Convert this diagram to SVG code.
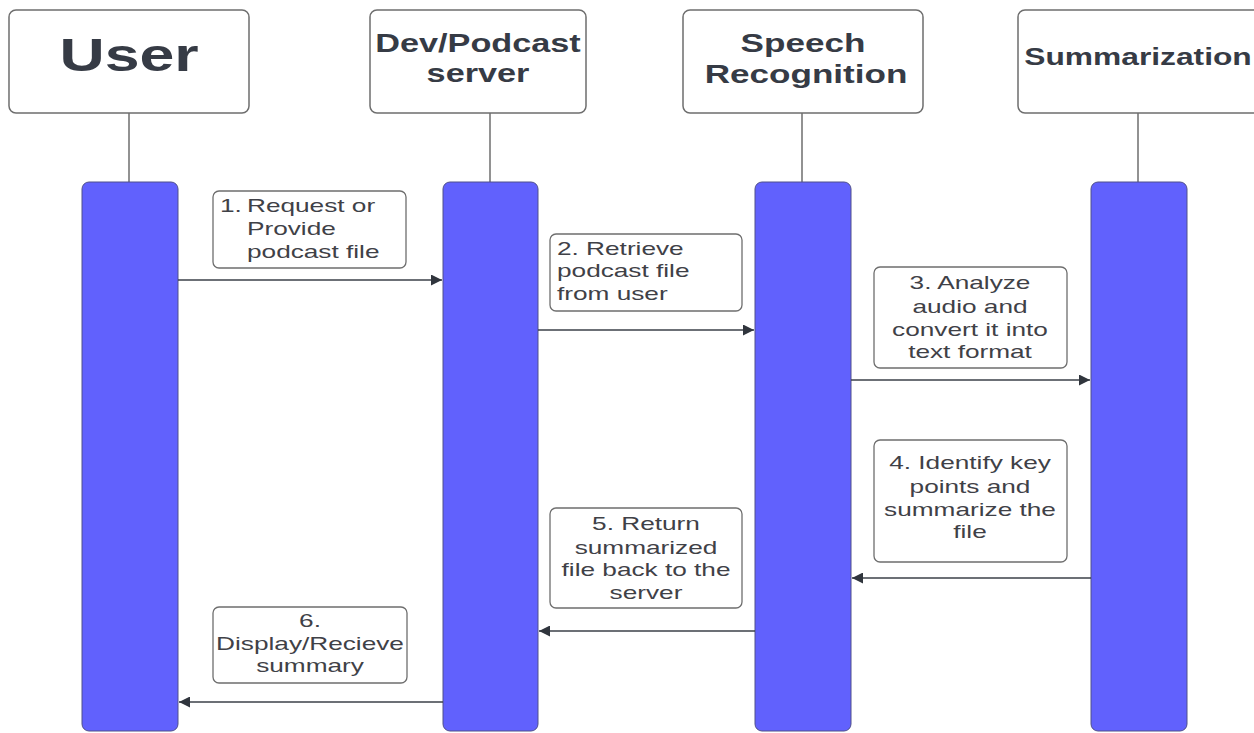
<svg xmlns="http://www.w3.org/2000/svg" width="1254" height="733" viewBox="0 0 1254 733">
<defs>
<style>
.hbox{fill:#fff;stroke:#6e6e6e;stroke-width:1.5}
.life{stroke:#6e6e6e;stroke-width:1.5}
.bar{fill:#6161fd;stroke:#50508a;stroke-width:1}
.lbl{fill:#fff;stroke:#6e6e6e;stroke-width:1.3}
.ht{font-family:"Liberation Sans",Arial,sans-serif;font-weight:bold;fill:#363b45}
.mt{font-family:"Liberation Sans",Arial,sans-serif;font-size:19px;fill:#3f4147}
.msg{stroke:#3b4049;stroke-width:1.5;fill:none}
</style>
<marker id="ah" viewBox="0 0 10 10" refX="10" refY="5" markerWidth="15" markerHeight="11" markerUnits="userSpaceOnUse" orient="auto">
<path d="M0,0 L10,5 L0,10 z" fill="#30353d"/>
</marker>
</defs>
<rect width="1254" height="733" fill="#fff"/>

<g id="user">
<rect class="hbox" x="9" y="10" width="240" height="103" rx="7"/>
<text class="ht" font-size="46" text-anchor="middle" transform="translate(129,71) scale(1.36,1)">User</text>
<line class="life" x1="129" y1="113" x2="129" y2="182"/>
<rect class="bar" x="82" y="182" width="96" height="549" rx="7"/>
</g>

<g id="server">
<rect class="hbox" x="370" y="10" width="216" height="103" rx="7"/>
<text class="ht" font-size="25" text-anchor="middle" transform="translate(478,52) scale(1.37,1)">Dev/Podcast</text>
<text class="ht" font-size="25" text-anchor="middle" transform="translate(478,82) scale(1.37,1)">server</text>
<line class="life" x1="490" y1="113" x2="490" y2="182"/>
<rect class="bar" x="443" y="182" width="95" height="549" rx="7"/>
</g>

<g id="speech">
<rect class="hbox" x="683" y="10" width="240" height="103" rx="7"/>
<text class="ht" font-size="26" text-anchor="middle" transform="translate(803,52) scale(1.35,1)">Speech</text>
<text class="ht" font-size="26" text-anchor="middle" transform="translate(806,83) scale(1.35,1)">Recognition</text>
<line class="life" x1="802" y1="113" x2="802" y2="182"/>
<rect class="bar" x="755" y="182" width="96" height="549" rx="7"/>
</g>

<g id="summarization">
<rect class="hbox" x="1018" y="10" width="242" height="103" rx="7"/>
<text class="ht" font-size="23" text-anchor="middle" transform="translate(1138,65) scale(1.38,1)">Summarization</text>
<line class="life" x1="1138" y1="113" x2="1138" y2="182"/>
<rect class="bar" x="1091" y="182" width="96" height="549" rx="7"/>
</g>

<g id="connectors">
<line class="msg" x1="178" y1="280" x2="442" y2="280" marker-end="url(#ah)"/>
<line class="msg" x1="538" y1="330" x2="754" y2="330" marker-end="url(#ah)"/>
<line class="msg" x1="851" y1="380" x2="1090" y2="380" marker-end="url(#ah)"/>
<line class="msg" x1="1091" y1="578" x2="852" y2="578" marker-end="url(#ah)"/>
<line class="msg" x1="755" y1="631" x2="539" y2="631" marker-end="url(#ah)"/>
<line class="msg" x1="443" y1="702" x2="179" y2="702" marker-end="url(#ah)"/>
</g>

<g id="label1">
<rect class="lbl" x="213" y="191" width="193" height="77" rx="6"/>
<text class="mt" transform="translate(220,212) scale(1.38,1)">1.</text>
<text class="mt" transform="translate(247,212) scale(1.38,1)">Request or</text>
<text class="mt" transform="translate(247,235) scale(1.38,1)">Provide</text>
<text class="mt" transform="translate(247,258) scale(1.38,1)">podcast file</text>
</g>

<g id="label2">
<rect class="lbl" x="550" y="234" width="192" height="77" rx="6"/>
<text class="mt" transform="translate(557,255) scale(1.38,1)">2. Retrieve</text>
<text class="mt" transform="translate(557,277) scale(1.38,1)">podcast file</text>
<text class="mt" transform="translate(557,300) scale(1.38,1)">from user</text>
</g>

<g id="label3">
<rect class="lbl" x="874" y="267" width="193" height="101" rx="6"/>
<text class="mt" text-anchor="middle" transform="translate(970,289) scale(1.38,1)">3. Analyze</text>
<text class="mt" text-anchor="middle" transform="translate(970,313) scale(1.38,1)">audio and</text>
<text class="mt" text-anchor="middle" transform="translate(970,336) scale(1.38,1)">convert it into</text>
<text class="mt" text-anchor="middle" transform="translate(970,358) scale(1.38,1)">text format</text>
</g>

<g id="label4">
<rect class="lbl" x="874" y="440" width="193" height="122" rx="6"/>
<text class="mt" text-anchor="middle" transform="translate(970,469) scale(1.38,1)">4. Identify key</text>
<text class="mt" text-anchor="middle" transform="translate(970,493) scale(1.38,1)">points and</text>
<text class="mt" text-anchor="middle" transform="translate(970,516) scale(1.38,1)">summarize the</text>
<text class="mt" text-anchor="middle" transform="translate(970,538) scale(1.38,1)">file</text>
</g>

<g id="label5">
<rect class="lbl" x="550" y="508" width="192" height="100" rx="6"/>
<text class="mt" text-anchor="middle" transform="translate(646,530) scale(1.38,1)">5. Return</text>
<text class="mt" text-anchor="middle" transform="translate(646,554) scale(1.38,1)">summarized</text>
<text class="mt" text-anchor="middle" transform="translate(646,576) scale(1.38,1)">file back to the</text>
<text class="mt" text-anchor="middle" transform="translate(646,599) scale(1.38,1)">server</text>
</g>

<g id="label6">
<rect class="lbl" x="213" y="607" width="194" height="76" rx="6"/>
<text class="mt" text-anchor="middle" transform="translate(310,627) scale(1.38,1)">6.</text>
<text class="mt" text-anchor="middle" transform="translate(310,650) scale(1.38,1)">Display/Recieve</text>
<text class="mt" text-anchor="middle" transform="translate(310,672) scale(1.38,1)">summary</text>
</g>
</svg>
